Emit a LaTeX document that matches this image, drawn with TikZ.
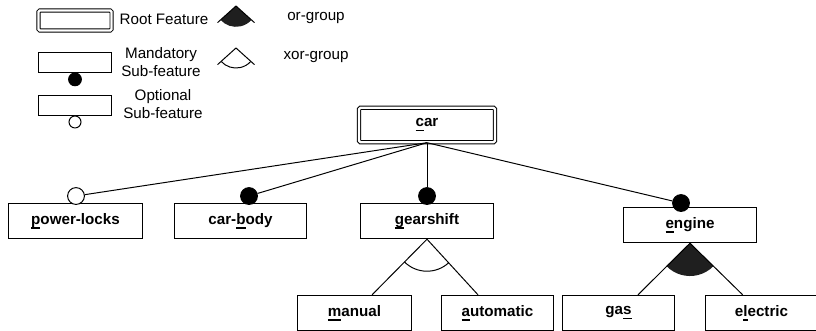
\documentclass[tikz,border=0pt]{standalone}
\usepackage{fontspec}
\setmainfont{Liberation Sans}
\usepackage{tikz}
\newcommand{\ukey}[1]{\setbox0\hbox{#1}\rlap{\rule[-3.4pt]{\wd0}{1.2pt}}#1}

\begin{document}
\begin{tikzpicture}[x=0.025cm, y=0.025cm,
        font=\fontsize{10.8}{12.8}\selectfont,
        feature/.style={draw, line width=0.85pt, inner sep=0pt, minimum height=0.88cm, font=\fontsize{10.8}{12.8}\selectfont\bfseries},
        rootbox/.style={draw, double, double distance=1.6pt, line width=0.7pt, rounded corners=1pt, inner sep=0pt},
        legbox/.style={draw, line width=0.7pt, minimum width=1.8cm, minimum height=0.5cm},
        manddot/.style={circle, draw, fill=black, line width=0.7pt, inner sep=0pt, minimum size=0.42cm},
        optdot/.style={circle, draw, fill=white, line width=0.7pt, inner sep=0pt, minimum size=0.42cm},
        link/.style={line width=0.7pt}]
            \path [use as bounding box, clip] (0, 0) rectangle (816, -330);

            % legend
            \node (legroot) at (75, -20.5) [rootbox, minimum width=1.83cm, minimum height=0.5cm] {};
            \node (legroottxt) at (164, -19) {Root Feature};
            \node (legmand) at (75, -62) [legbox] {};
            \node (legmanddot) at (legmand.south) [manddot, anchor=north, minimum size=0.32cm] {};
            \node (legmandtxt) at (161, -62) [align=center] {Mandatory\\Sub-feature};
            \node (legopt) at (75, -105) [legbox] {};
            \node (legoptdot) at (legopt.south) [optdot, anchor=north, minimum size=0.3cm] {};
            \node (legopttxt) at (163, -104) [align=center] {Optional\\Sub-feature};
            \coordinate (legor) at (236, -6);
            \fill [black!88] (legor) -- ([shift={(222:0.52cm)}]legor) arc [start angle=222, end angle=318, radius=0.52cm] -- cycle;
            \draw [link] ([shift={(222:0.62cm)}]legor) -- (legor) -- ([shift={(318:0.62cm)}]legor);
            \node (legortxt) at (316, -18) {or-group};
            \coordinate (legxor) at (236, -48);
            \draw [link] ([shift={(222:0.62cm)}]legxor) -- (legxor) -- ([shift={(318:0.62cm)}]legxor);
            \draw [link] ([shift={(222:0.5cm)}]legxor) arc [start angle=222, end angle=318, radius=0.5cm];
            \node (legxortxt) at (316, -57) {xor-group};

            % feature tree
            \node (car) at (427, -125) [rootbox, minimum width=3.4cm, minimum height=0.86cm, font=\fontsize{10.8}{12.8}\selectfont\bfseries] {\ukey{c}ar};
            \node (powerlocks) at (75.5, -221) [feature, minimum width=3.35cm] {\ukey{p}ower-locks};
            \node (carbody) at (240.5, -221) [feature, minimum width=3.3cm] {car-\ukey{b}ody};
            \node (gearshift) at (427, -221) [feature, minimum width=3.33cm] {\ukey{g}earshift};
            \node (engine) at (690, -225) [feature, minimum width=3.33cm] {\ukey{e}ngine};
            \node (manual) at (354.5, -313) [feature, minimum width=2.85cm] {\ukey{m}anual};
            \node (automatic) at (497.5, -313) [feature, minimum width=2.8cm] {\ukey{a}utomatic};
            \node (gas) at (618.5, -313) [feature, minimum width=2.8cm] {ga\ukey{s}};
            \node (electric) at (761.5, -313) [feature, minimum width=2.8cm] {e\ukey{l}ectric};

            \node (dpowerlocks) at (76, -196) [optdot] {};
            \node (dcarbody) at (249, -196) [manddot] {};
            \node (dgearshift) at (427, -196) [manddot] {};
            \node (dengine) at (681, -203) [manddot] {};

            \draw [link] (car.south) -- (dpowerlocks);
            \draw [link] (car.south) -- (dcarbody);
            \draw [link] (car.south) -- (dgearshift);
            \draw [link] (car.south) -- (dengine);

            % xor-group
            \draw [link] (gearshift.south) -- (manual.46);
            \draw [link] (gearshift.south) -- (automatic.137);
            \draw [link] ([shift={(225:0.8cm)}]gearshift.south) arc [start angle=225, end angle=313, radius=0.8cm];

            % or-group
            \fill [black!88] (engine.south) -- ([shift={(224:0.82cm)}]engine.south) arc [start angle=224, end angle=316, radius=0.82cm] -- cycle;
            \draw [link] (engine.south) -- (gas.43);
            \draw [link] (engine.south) -- (electric.136);
        \end{tikzpicture}
\end{document}
